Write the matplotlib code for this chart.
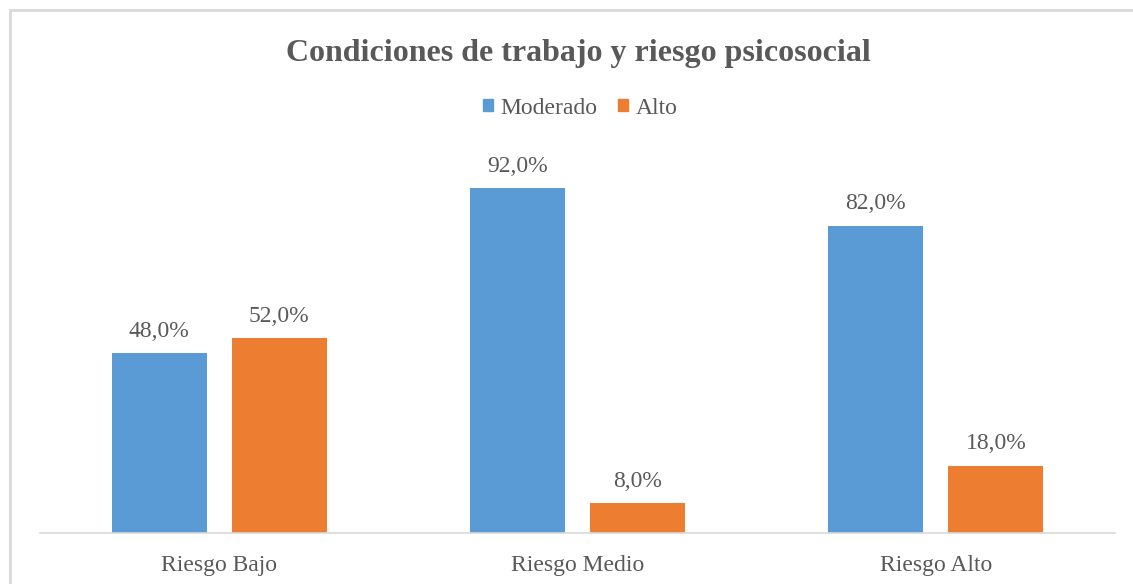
import matplotlib

matplotlib.use("Agg")
import matplotlib.pyplot as plt
import numpy as np
from matplotlib.patches import Patch, Rectangle

categories = ["Riesgo Bajo", "Riesgo Medio", "Riesgo Alto"]
series_names = ["Moderado", "Alto"]
moderado = [48.0, 92.0, 82.0]
alto = [52.0, 8.0, 18.0]

BLUE = "#5b9bd5"
ORANGE = "#ed7d31"
TEXT = "#595959"
GRID = "#d9d9d9"

plt.rcParams["font.family"] = ["Liberation Serif", "DejaVu Serif"]

fig = plt.figure(figsize=(11.33, 5.84), dpi=100)
ax = fig.add_axes([40 / 1133, 51 / 584, 1075 / 1133, 375 / 584])

x = np.arange(len(categories))
width = 0.265
offset = 0.1675

bars_m = ax.bar(x - offset, moderado, width, color=BLUE)
bars_a = ax.bar(x + offset, alto, width, color=ORANGE)

for bars in (bars_m, bars_a):
    for b in bars:
        ax.annotate(
            f"{b.get_height():.1f}".replace(".", ",") + "%",
            (b.get_x() + b.get_width() / 2, b.get_height()),
            xytext=(0, 8),
            textcoords="offset points",
            ha="center",
            va="bottom",
            fontsize=17,
            color=TEXT,
        )

ax.set_xlim(-0.5, 2.5)
ax.set_ylim(0, 100)
ax.set_xticks(x)
ax.set_xticklabels(categories, fontsize=17, color=TEXT)
ax.tick_params(axis="x", length=0, pad=16)
ax.set_yticks([])
for side in ("top", "right", "left"):
    ax.spines[side].set_visible(False)
ax.spines["bottom"].set_color(GRID)
ax.spines["bottom"].set_linewidth(1.2)

fig.text(
    578 / 1133,
    1 - 53 / 584,
    "Condiciones de trabajo y riesgo psicosocial",
    ha="center",
    va="center",
    fontsize=23,
    fontweight="bold",
    color=TEXT,
)

handles = [Patch(color=BLUE), Patch(color=ORANGE)]
fig.legend(
    handles,
    series_names,
    loc="center",
    bbox_to_anchor=(580 / 1133, 1 - 108 / 584),
    ncol=2,
    frameon=False,
    fontsize=17,
    labelcolor=TEXT,
    handlelength=0.45,
    handleheight=0.45,
    handletextpad=0.3,
    columnspacing=0.85,
)

fig.patches.append(
    Rectangle(
        (10.5 / 1133, -0.1),
        1.2,
        1.1 - 10.5 / 584,
        transform=fig.transFigure,
        fill=False,
        edgecolor=GRID,
        linewidth=2,
    )
)

fig.savefig("out.png", dpi=100)
